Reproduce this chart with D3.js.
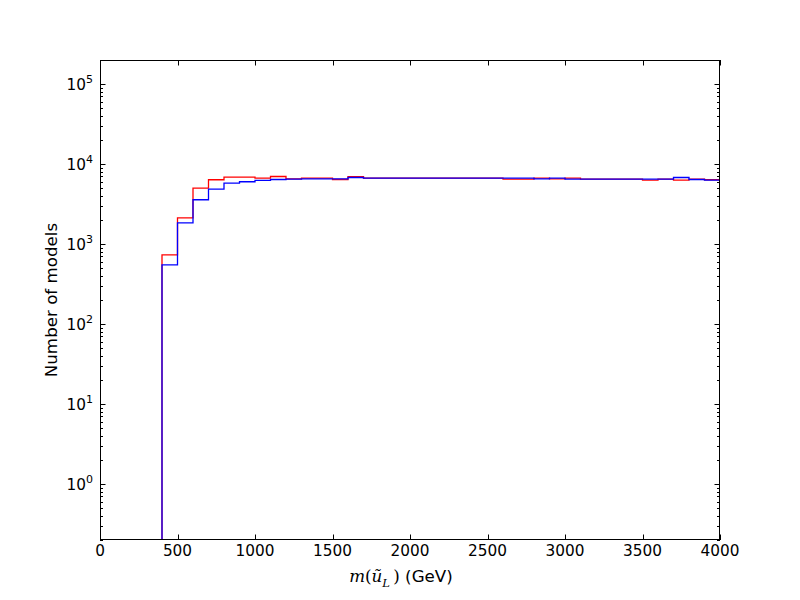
<!DOCTYPE html>
<html>
<head>
<meta charset="utf-8">
<script src="https://cdn.jsdelivr.net/npm/d3@7"></script>
<style>
  body { margin: 0; background: #fff; }
  svg { display: block; }
  text { font-family: "DejaVu Sans", sans-serif; fill: #000; }
</style>
</head>
<body>
<svg id="chart" width="800" height="600"></svg>
<script>
// Bin left edges (GeV), bin width 100
const binEdges = [400,500,600,700,800,900,1000,1100,1200,1300,1400,1500,1600,1700,1800,1900,2000,2100,2200,2300,2400,2500,2600,2700,2800,2900,3000,3100,3200,3300,3400,3500,3600,3700,3800,3900,4000];
const redCounts = [735,2130,5010,6370,6880,6880,6680,7000,6550,6680,6680,6420,6940,6680,6680,6680,6680,6680,6680,6680,6680,6680,6490,6490,6680,6550,6680,6490,6490,6490,6490,6310,6490,6310,6490,6370];
const blueCounts = [551,1846,3580,4870,5790,6010,6240,6420,6490,6550,6550,6550,6800,6680,6680,6680,6680,6680,6680,6680,6680,6680,6680,6680,6550,6680,6490,6490,6490,6490,6490,6490,6490,6800,6420,6310];
const xTicks = [0,500,1000,1500,2000,2500,3000,3500,4000];
const yMajorExp = [0,1,2,3,4,5];
const xDomain = [0, 4000];
const yDomain = [0.2, 2e5];
const xLabel = "(GeV)";
const yLabel = "Number of models";

const svg = d3.select("#chart");
const m = {left: 100, top: 60, width: 620, height: 480};
const x = d3.scaleLinear().domain(xDomain).range([m.left, m.left + m.width]);
const y = d3.scaleLog().domain(yDomain).range([m.top + m.height, m.top]);

svg.append("defs").append("clipPath").attr("id", "clip")
  .append("rect").attr("x", m.left).attr("y", m.top).attr("width", m.width).attr("height", m.height);

function stepPoints(counts) {
  const pts = [];
  pts.push([x(binEdges[0]), m.top + m.height + 5]);
  counts.forEach((v, i) => {
    pts.push([x(binEdges[i]), y(v)]);
    pts.push([x(binEdges[i + 1]), y(v)]);
  });
  pts.push([x(binEdges[binEdges.length - 1]), m.top + m.height + 5]);
  return pts;
}
const line = d3.line();
const g = svg.append("g").attr("clip-path", "url(#clip)");
[[redCounts, "#ff0000"], [blueCounts, "#0000ff"]].forEach(([c, col]) => {
  g.append("path").attr("d", line(stepPoints(c)))
    .attr("fill", "none").attr("stroke", col).attr("stroke-width", 1.3)
    .attr("stroke-linejoin", "miter");
});

// Ticks
const majLen = 5.5, minLen = 3;
const yMajors = yMajorExp.map(e => Math.pow(10, e));
const yMinors = [];
for (let e = -1; e <= 5; e++) for (let k = 2; k <= 9; k++) {
  const v = k * Math.pow(10, e);
  if (v >= yDomain[0] && v <= yDomain[1]) yMinors.push(v);
}
const tg = svg.append("g").attr("stroke", "#000").attr("stroke-width", 1);
yMajors.forEach(v => {
  const yy = Math.round(y(v)) + 0.5;
  tg.append("line").attr("x1", m.left).attr("x2", m.left + majLen).attr("y1", yy).attr("y2", yy);
  tg.append("line").attr("x1", m.left + m.width).attr("x2", m.left + m.width - majLen).attr("y1", yy).attr("y2", yy);
});
yMinors.forEach(v => {
  const yy = Math.round(y(v)) + 0.5;
  tg.append("line").attr("x1", m.left).attr("x2", m.left + minLen).attr("y1", yy).attr("y2", yy);
  tg.append("line").attr("x1", m.left + m.width).attr("x2", m.left + m.width - minLen).attr("y1", yy).attr("y2", yy);
});
xTicks.forEach(v => {
  const xx = Math.round(x(v)) + 0.5;
  tg.append("line").attr("x1", xx).attr("x2", xx).attr("y1", m.top + m.height).attr("y2", m.top + m.height - majLen);
  tg.append("line").attr("x1", xx).attr("x2", xx).attr("y1", m.top).attr("y2", m.top + majLen);
});

// Frame
svg.append("rect").attr("x", m.left + 0.5).attr("y", m.top + 0.5)
  .attr("width", m.width - 1).attr("height", m.height - 1)
  .attr("fill", "none").attr("stroke", "#000").attr("stroke-width", 1);

const tickFont = 15.3, labelFont = 16.7;
// X tick labels
xTicks.forEach(v => {
  svg.append("text").attr("x", x(v)).attr("y", m.top + m.height + 16)
    .attr("text-anchor", "middle").attr("font-size", tickFont).text(v);
});
// Y tick labels
yMajorExp.forEach(e => {
  const t = svg.append("text").attr("x", m.left - 7).attr("y", y(Math.pow(10, e)) + 5.5)
    .attr("text-anchor", "end").attr("font-size", tickFont);
  t.append("tspan").text("10");
  t.append("tspan").attr("dy", -7).attr("font-size", 11).text(e);
});

// Y label
svg.append("text").attr("transform", `translate(57,${m.top + m.height / 2}) rotate(-90)`)
  .attr("text-anchor", "middle").attr("font-size", labelFont).text(yLabel);

// X label with math
const xl = svg.append("text").attr("x", 401).attr("y", 582).attr("text-anchor", "middle").attr("font-size", labelFont);
xl.append("tspan").attr("font-family", "DejaVu Serif, serif").attr("font-style", "italic").text("m");
xl.append("tspan").attr("font-family", "DejaVu Serif, serif").text("(");
xl.append("tspan").attr("font-family", "DejaVu Serif, serif").attr("font-style", "italic").text("ũ");
xl.append("tspan").attr("font-family", "DejaVu Serif, serif").attr("font-style", "italic").attr("font-size", 11.5).attr("dy", 5).text("L");
xl.append("tspan").attr("font-family", "DejaVu Serif, serif").attr("dy", -5).text("\u2009)");
xl.append("tspan").text(" " + xLabel);
</script>
</body>
</html>
